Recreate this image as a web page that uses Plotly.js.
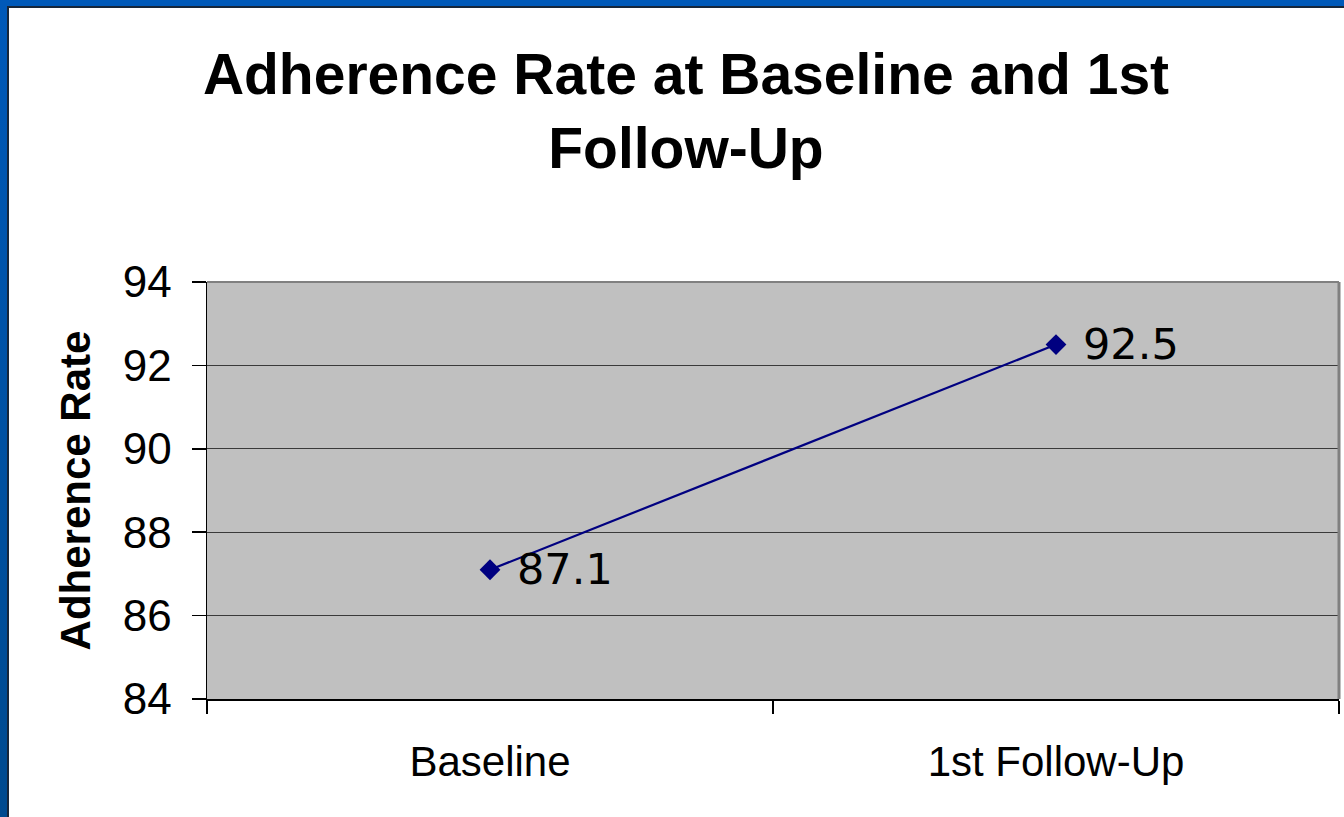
<!DOCTYPE html>
<html>
<head>
<meta charset="utf-8">
<script src="https://cdn.plot.ly/plotly-3.0.1.min.js"></script>
<style>
  html, body { margin: 0; padding: 0; background: #ffffff; }
  #wrap { position: relative; width: 1344px; height: 817px; overflow: hidden; }
  #chart { position: absolute; left: 0; top: 0; width: 1344px; height: 817px; }
  .bt { position: absolute; left: 0; top: 0; width: 1344px; height: 7px; background: #0059b9; }
  .bt2 { position: absolute; left: 7px; top: 6px; width: 1337px; height: 2px; background: #17263a; }
  .bl { position: absolute; left: 0; top: 0; width: 7px; height: 817px; background: linear-gradient(#0059b9, #004a8f); }
  .bl2 { position: absolute; left: 7px; top: 6px; width: 2px; height: 811px; background: #17263a; }
</style>
</head>
<body>
<div id="wrap">
  <div id="chart"></div>
  <div class="bt"></div><div class="bl"></div><div class="bt2"></div><div class="bl2"></div>
</div>
<script>
const categories = ["Baseline", "1st Follow-Up"];
const adherenceRate = [87.1, 92.5];
const yTickValues = [84, 86, 88, 90, 92, 94];
const chartTitle = "Adherence Rate at Baseline and 1st<br>Follow-Up";
const yTitle = "Adherence Rate";

const trace = {
  type: "scatter",
  mode: "lines+markers",
  x: categories,
  y: adherenceRate,
  line: { color: "#000080", width: 2.2 },
  marker: { symbol: "diamond", size: 16, color: "#000080" },
  hoverinfo: "x+y",
  cliponaxis: false
};

const labelAnnotations = categories.map((c, i) => ({
  x: c, y: adherenceRate[i], xref: "x", yref: "y",
  text: adherenceRate[i].toFixed(1),
  showarrow: false, xanchor: "left", yanchor: "middle",
  xshift: 25, yshift: 1,
  font: { family: "DejaVu Sans", size: 43, color: "#000000" }
}));

const layout = {
  width: 1344,
  height: 817,
  paper_bgcolor: "#ffffff",
  plot_bgcolor: "#c0c0c0",
  margin: { l: 207, r: 5, t: 282, b: 118 },
  showlegend: false,
  font: { family: "Liberation Sans, Arial, sans-serif", color: "#000000" },
  title: {
    text: chartTitle,
    font: { family: "Liberation Sans, Arial, sans-serif", size: 57, color: "#000000", weight: "bold" },
    x: 0.5104, xref: "container", xanchor: "center",
    y: 0.885, yref: "container", yanchor: "top"
  },
  xaxis: {
    type: "category",
    range: [-0.5, 1.5],
    tickson: "boundaries",
    ticks: "outside",
    ticklen: 13,
    tickwidth: 1.5,
    tickcolor: "#000000",
    showline: true,
    linecolor: "#000000",
    linewidth: 2,
    showgrid: false,
    zeroline: false,
    tickfont: { family: "Liberation Sans, Arial, sans-serif", size: 42, color: "#000000" },
    ticklabelstandoff: 25,
    fixedrange: true
  },
  yaxis: {
    range: [84, 94],
    tickvals: yTickValues,
    ticktext: yTickValues.map(String),
    ticks: "outside",
    ticklen: 14,
    tickwidth: 1.5,
    tickcolor: "#000000",
    showline: true,
    linecolor: "#000000",
    linewidth: 1.5,
    showgrid: true,
    gridcolor: "#3a3a3a",
    gridwidth: 1,
    zeroline: false,
    tickfont: { family: "Liberation Sans, Arial, sans-serif", size: 44, color: "#000000" },
    ticklabelstandoff: 11,
    title: {
      text: yTitle,
      font: { family: "Liberation Sans, Arial, sans-serif", size: 42, color: "#000000", weight: "bold" },
      standoff: 19
    },
    automargin: false,
    fixedrange: true
  },
  annotations: labelAnnotations,
  shapes: [
    { type: "line", xref: "paper", yref: "paper", x0: 1, x1: 1, y0: 0, y1: 1,
      line: { color: "#808080", width: 3 } },
    { type: "line", xref: "paper", yref: "paper", x0: 0, x1: 1, y0: 1, y1: 1,
      line: { color: "#808080", width: 2 } }
  ]
};

Plotly.newPlot("chart", [trace], layout, { displayModeBar: false, staticPlot: true });
</script>
</body>
</html>
